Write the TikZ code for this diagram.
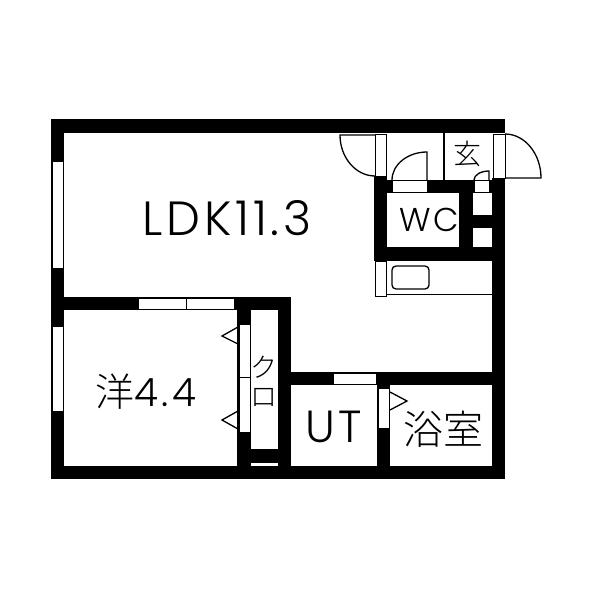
\documentclass[tikz,border=0pt]{standalone}
\usepackage{fontspec}
\usetikzlibrary{positioning}
\setmainfont[LetterSpace=8]{Poppins Light}
\newfontfamily\cjk{Noto Sans CJK JP Light}

\tikzset{
  wall/.style={fill=black,draw=none},
  glass/.style={fill=white,draw=black,line width=1pt},
  leaf/.style={draw=black,line width=1.3pt},
  roomlabel/.style={inner sep=0pt,text=black},
}

\begin{document}
\begin{tikzpicture}[x=1pt,y=-1pt]
  \useasboundingbox[fill=white] (0,0) rectangle (600,600);
  % outer walls
  \fill[wall] (51,119) rectangle (505,133);
  \fill[wall] (51,119) rectangle (64,479);
  \fill[wall] (51,466) rectangle (505,479);
  \fill[wall] (492,178) rectangle (505,479);
  % inner walls
  \fill[wall] (64,297) rectangle (291,310);
  \fill[wall] (237,297) rectangle (251,479);
  \fill[wall] (278,297) rectangle (291,479);
  \fill[wall] (251,449) rectangle (278,463);
  \fill[wall] (291,372) rectangle (492,385);
  \fill[wall] (377,385) rectangle (390,479);
  \fill[wall] (374,176) rectangle (387,261);
  \fill[wall] (374,180) rectangle (492,193);
  \fill[wall] (374,247) rectangle (492,261);
  \fill[wall] (459,180) rectangle (473,261);
  \fill[wall] (473,215) rectangle (492,228);
  % windows
  \draw[glass] (52,161) rectangle (63,268);
  \draw[glass] (52,326) rectangle (63,411);
  \draw[glass] (138,298) rectangle (186,309);
  \draw[glass] (186,298) rectangle (234,309);
  \draw[glass] (333,373) rectangle (376,384);
  \fill[white] (251,463) rectangle (278,466);
  % doors
  \draw[glass] (239,324) rectangle (250,377);
  \draw[glass] (239,377) rectangle (250,432);
  \draw[glass] (378,388) rectangle (389,428);
  \draw[glass] (375,134) rectangle (386,176);
  \draw[glass] (493,134) rectangle (505,178);
  \draw[glass] (392,180) rectangle (427,192);
  \draw[glass] (474,180) rectangle (489,192);
  \draw[leaf] (238,327) -- (222,336) -- (238,344);
  \draw[leaf] (238,411) -- (222,420) -- (238,429);
  \draw[leaf] (390,392) -- (407,401) -- (390,410);
  \draw[leaf] (375,135) -- (340,135) .. controls (340,157.5) and (355.7,176) .. (375,176);
  \draw[leaf] (427,180) -- (427,152) .. controls (407.7,152) and (392,164.6) .. (392,180);
  \draw[leaf] (489,180) -- (489,171) .. controls (480.7,171) and (474,175) .. (474,180);
  \draw[leaf] (505,134) .. controls (525,134) and (541,154) .. (541,178) -- (505,178);
  % entrance and kitchen
  \draw[leaf] (444,133) -- (444,180);
  \draw[glass] (375,261) rectangle (386,296);
  \draw[leaf] (386,294.5) -- (492,294.5);
  \draw[leaf,rounded corners=4pt] (392,266) rectangle (429,289);
  % labels
  \node[roomlabel,font=\fontsize{48}{48}\selectfont] (ldk) at (227,218) {LDK11.3};
  \node[roomlabel,font=\fontsize{39}{39}\selectfont] (yo) at (146,392) {{\cjk 洋}4.4};
  \node[roomlabel,font=\fontsize{33}{33}\selectfont] (wc) at (429,220) {WC};
  \node[roomlabel,font=\fontsize{45}{45}\selectfont] (ut) at (334,427) {UT};
  \node[roomlabel,font=\cjk\fontsize{40}{40}\selectfont] (bath) at (443,429) {浴室};
  \node[roomlabel,font=\cjk\fontsize{28}{28}\selectfont] (genkan) at (467,154) {玄};
  \node[roomlabel,font=\cjk\fontsize{27}{27}\selectfont] (ku) at (264,367) {ク};
  \node[roomlabel,font=\cjk\fontsize{27}{27}\selectfont] (ro) at (264,397) {ロ};
\end{tikzpicture}
\end{document}
